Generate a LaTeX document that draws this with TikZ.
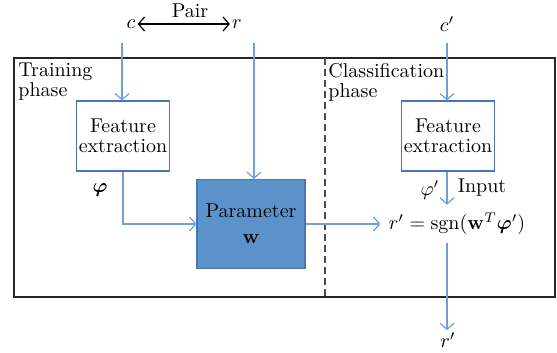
\documentclass[tikz,border=0pt]{standalone}
\usepackage{amsmath}
\usetikzlibrary{arrows.meta}
\definecolor{linkblue}{RGB}{112,160,214}
\definecolor{boxedge}{RGB}{72,118,178}
\definecolor{paramfill}{RGB}{92,146,202}
\tikzstyle{link} = [draw=linkblue,line width=0.6pt,-{Straight Barb[length=3pt,width=7pt]}]

\begin{document}
\begin{tikzpicture}
		[
		x=0.5pt,y=0.5pt,
		block/.style={
		draw=boxedge,
		line width=0.6pt,
		rectangle,
		align=center,
		inner sep=1pt,
		font={\fontsize{10}{10}\selectfont}},
		phase/.style={
		anchor=north west,
		align=left,
		inner sep=0pt,
		font={\fontsize{10}{10}\selectfont}},
		lbl/.style={inner sep=1pt,font=\normalsize}
		]
		\useasboundingbox (0,0) rectangle (557,353);
		\draw[line width=0.8pt,black!85] (14,295) rectangle (555,56);
		\draw[dash pattern=on 3.5pt off 2pt,line width=0.9pt,black!70] (325,295) -- (325,56);
		\node[phase](train) at (18,290) {Training\\phase};
		\node[phase](classify) at (328,290) {Classification\\phase};
		% inputs
		\node[lbl](c) at (131,329) {$c$};
		\node[lbl](r) at (237,329) {$r$};
		\node[lbl](pair) at (190,342) {Pair};
		\draw[{Straight Barb[length=3pt,width=7pt]}-{Straight Barb[length=3pt,width=7pt]},line width=0.6pt] (c.east) -- (r.west);
		\node[lbl](cnew) at (447,329) {$c'$};
		% boxes
		\node[block,minimum width=44pt,minimum height=35pt](feat) at (123,217) {Feature\\extraction};
		\node[block,minimum width=44pt,minimum height=35pt](featnew) at (448,217) {Feature\\extraction};
		\node[block,fill=paramfill,minimum width=54pt,minimum height=44.5pt](param) at (251,129) {Parameter\\[3pt]$\mathbf{w}$};
		\node[lbl,inner sep=4pt](eq) at (457,129) {$r' = \mathrm{sgn}(\mathbf{w}^T\boldsymbol{\varphi}')$};
		\node[lbl](rout) at (448,13) {$r'$};
		\node[lbl](phi) at (100,163) {$\boldsymbol{\varphi}$};
		\node[lbl](phinew) at (430,163) {$\varphi'$};
		\node[lbl](input) at (482,165) {Input};
		% connectors
		\coordinate (ctop) at (122,310);
		\coordinate (rtop) at (254,310);
		\coordinate (cnewtop) at (447,310);
		\draw[link] (ctop) -- (ctop |- feat.north);
		\draw[link] (rtop) -- (rtop |- param.north);
		\draw[link] (cnewtop) -- (cnewtop |- featnew.north);
		\draw[link] (feat.south) |- (param.west);
		\draw[link] (param.east) -- (eq.west);
		\draw[link] (featnew.south -| cnewtop) -- (cnewtop |- eq.north);
		\draw[link] (cnewtop |- eq.south) -- (cnewtop |- rout.north);
\end{tikzpicture}
\end{document}
